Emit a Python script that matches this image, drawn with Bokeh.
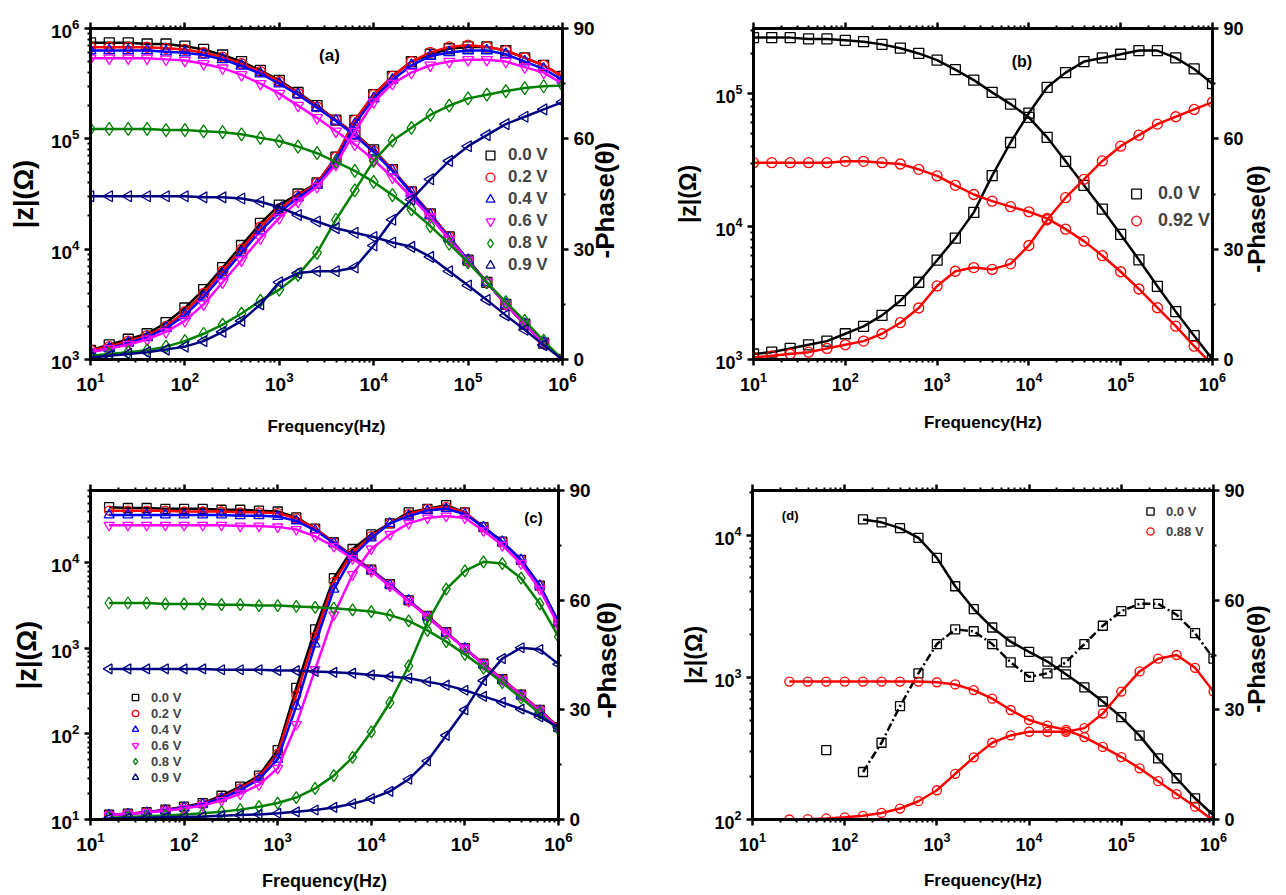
import math
from bokeh.plotting import figure
from bokeh.models import (Range1d, LogAxis, LinearAxis, FixedTicker, Label, LinearScale,
                          Legend, LegendItem, ColumnDataSource, CustomJSTickFormatter)
from bokeh.layouts import column, row
from bokeh.embed import file_html
from bokeh.resources import INLINE

FONT = "Liberation Sans"

# ---------------- data ----------------
FREQ = [10, 15.8, 25.1, 39.8, 63.1, 100, 158, 251, 398, 631, 1000, 1580, 2510, 3980, 6310,
        10000, 15800, 25100, 39800, 63100, 100000, 158000, 251000, 398000, 631000, 1000000]

# panel (a)
A_LABELS = ["0.0 V", "0.2 V", "0.4 V", "0.6 V", "0.8 V", "0.9 V"]
A_Z_00 = [741e3, 741e3, 741e3, 724e3, 724e3, 692e3, 646e3, 575e3, 501e3, 417e3, 339e3, 263e3, 200e3,
          148e3, 112e3, 79.4e3, 52.5e3, 33.1e3, 20.9e3, 12.9e3, 7.94e3, 5.01e3, 3.16e3, 2.09e3, 1.41e3, 1.00e3]
A_Z_02 = [676e3, 676e3, 676e3, 676e3, 661e3, 646e3, 603e3, 550e3, 479e3, 407e3, 331e3, 257e3, 195e3,
          148e3, 110e3, 77.6e3, 52.5e3, 33.1e3, 20.9e3, 12.9e3, 7.94e3, 5.01e3, 3.16e3, 2.09e3, 1.41e3, 1.00e3]
A_Z_04 = [631e3, 631e3, 631e3, 631e3, 617e3, 603e3, 575e3, 525e3, 457e3, 389e3, 316e3, 251e3, 191e3,
          145e3, 107e3, 75.9e3, 51.3e3, 32.4e3, 20.4e3, 12.6e3, 7.94e3, 5.01e3, 3.16e3, 2.09e3, 1.41e3, 1.00e3]
A_Z_06 = [537e3, 537e3, 537e3, 537e3, 525e3, 513e3, 479e3, 437e3, 380e3, 316e3, 257e3, 200e3, 155e3,
          117e3, 89.1e3, 64.6e3, 44.7e3, 29.5e3, 19.5e3, 12.3e3, 7.76e3, 5.01e3, 3.16e3, 2.09e3, 1.41e3, 1.00e3]
A_Z_08 = [123e3, 123e3, 123e3, 123e3, 120e3, 120e3, 117e3, 115e3, 110e3, 102e3, 95.5e3, 85.1e3, 74.1e3,
          61.7e3, 51.3e3, 40.7e3, 30.9e3, 22.9e3, 16.2e3, 11.2e3, 7.59e3, 5.01e3, 3.31e3, 2.24e3, 1.48e3, 1.00e3]
A_Z_09 = [30.2e3, 30.2e3, 30.2e3, 30.2e3, 30.2e3, 30.2e3, 29.5e3, 29.5e3, 28.8e3, 26.9e3, 24.0e3, 20.4e3, 17.8e3,
          15.5e3, 14.1e3, 12.9e3, 11.5e3, 10.5e3, 8.51e3, 6.31e3, 4.68e3, 3.47e3, 2.51e3, 1.86e3, 1.35e3, 1.00e3]
A_P_00 = [2.5, 4, 5.5, 7, 10, 14, 19, 25, 31, 37, 42, 45, 48, 55, 65, 72, 77, 81, 83, 84.5, 85, 85, 84, 82, 80, 77]
A_P_02 = [2.5, 3.5, 5, 6.5, 9, 13, 18, 24, 30, 36, 41, 44.5, 48, 55, 65, 72, 77, 81, 83.5, 85, 85.5, 85, 84, 82, 80, 77]
A_P_04 = [2, 3, 4.5, 6, 8.5, 12, 17, 23, 29, 35, 40, 44, 47.5, 54, 64, 71, 76, 80, 82.5, 83.5, 84, 84, 83, 81, 79, 76]
A_P_06 = [2, 3, 4, 5.5, 7.5, 10.5, 15, 21, 27, 33, 38.5, 43, 47, 53, 62, 70, 75, 78, 80, 81, 81.5, 81.5, 81, 79.5, 78, 75]
A_P_08 = [1, 1.5, 2, 2.5, 3.5, 5, 7, 9.5, 12.5, 16, 19, 23, 29, 38, 46, 54, 59.5, 63, 66.5, 69, 71, 72, 73, 73.8, 74.3, 74.5]
A_P_09 = [0.5, 1, 1.5, 2, 2.7, 3.5, 5, 7.5, 10.5, 15, 21, 23.5, 24, 24, 25, 31, 38, 43.5, 49, 54, 58, 61, 64, 66, 68, 70]

# panel (b)
B_LABELS = ["0.0 V", "0.92 V"]
B_Z_00 = [263e3, 263e3, 263e3, 257e3, 257e3, 251e3, 245e3, 234e3, 219e3, 200e3, 178e3, 151e3, 126e3,
          102e3, 83.2e3, 66.1e3, 46.8e3, 30.9e3, 20.4e3, 13.5e3, 8.71e3, 5.62e3, 3.55e3, 2.29e3, 1.51e3, 1.00e3]
B_Z_092 = [30.2e3, 30.2e3, 30.2e3, 30.2e3, 30.2e3, 30.9e3, 30.9e3, 30.2e3, 29.5e3, 26.9e3, 24.0e3, 20.4e3, 17.4e3,
           15.5e3, 14.1e3, 12.9e3, 11.5e3, 9.55e3, 7.76e3, 6.03e3, 4.57e3, 3.39e3, 2.45e3, 1.78e3, 1.26e3, 912]
B_P_00 = [1.5, 2, 3, 4, 5, 7, 9, 12, 16, 21, 27, 33, 40, 50, 59, 67, 74, 78, 81, 82, 83, 84, 84, 82, 79, 75]
B_P_092 = [0.5, 1, 1.5, 2, 3, 4, 5, 7, 10, 14, 20, 24, 25, 24.5, 26, 31, 38, 44, 49, 54, 58, 61, 64, 66, 68, 70]

# panel (c)
FREQ_C = [15.8, 25.1, 39.8, 63.1, 100, 158, 251, 398, 631, 1000, 1580, 2510, 3980, 6310,
          10000, 15800, 25100, 39800, 63100, 100000, 158000, 251000, 398000, 631000, 1000000]
C_LABELS = ["0.0 V", "0.2 V", "0.4 V", "0.6 V", "0.8 V", "0.9 V"]
C_Z_00 = [44.7e3, 43.7e3, 43.7e3, 42.7e3, 42.7e3, 42.7e3, 41.7e3, 41.7e3, 40.7e3, 39.8e3, 33.9e3, 25.1e3, 17.4e3,
          12.0e3, 8.32e3, 5.62e3, 3.63e3, 2.40e3, 1.55e3, 1.00e3, 661, 437, 288, 191, 120]
C_Z_02 = [40.7e3, 40.7e3, 40.7e3, 40.7e3, 39.8e3, 39.8e3, 39.8e3, 38.9e3, 38.9e3, 38.0e3, 33.1e3, 25.1e3, 17.4e3,
          12.0e3, 8.32e3, 5.62e3, 3.63e3, 2.40e3, 1.55e3, 1.00e3, 661, 437, 288, 191, 120]
C_Z_04 = [36.3e3, 36.3e3, 36.3e3, 36.3e3, 36.3e3, 36.3e3, 36.3e3, 35.5e3, 35.5e3, 34.7e3, 30.9e3, 24.0e3, 17.0e3,
          11.7e3, 8.13e3, 5.50e3, 3.63e3, 2.34e3, 1.51e3, 1.00e3, 646, 427, 282, 186, 117]
C_Z_06 = [27.5e3, 27.5e3, 27.5e3, 27.5e3, 27.5e3, 27.5e3, 27.5e3, 26.9e3, 26.9e3, 26.3e3, 24.5e3, 20.4e3, 15.5e3,
          11.2e3, 7.94e3, 5.37e3, 3.55e3, 2.34e3, 1.51e3, 1.00e3, 646, 427, 282, 186, 117]
C_Z_08 = [3.39e3, 3.39e3, 3.39e3, 3.31e3, 3.31e3, 3.31e3, 3.24e3, 3.24e3, 3.16e3, 3.16e3, 3.09e3, 3.02e3, 2.95e3,
          2.82e3, 2.69e3, 2.45e3, 2.09e3, 1.62e3, 1.20e3, 851, 589, 398, 263, 174, 112]
C_Z_09 = [575, 575, 575, 575, 575, 575, 562, 562, 562, 550, 550, 537, 525, 513, 490, 468, 447, 407, 372, 324,
          275, 234, 195, 158, 120]
C_P_00 = [1.3, 1.6, 2, 2.7, 3.5, 4.5, 6.5, 9, 12, 19, 36, 52, 66, 74, 78, 81, 84, 85, 86, 84, 80, 76, 71, 64, 54]
C_P_02 = [1.3, 1.6, 2, 2.6, 3.3, 4.3, 6, 8.5, 11.5, 18, 34, 50, 65, 73, 77.5, 81, 83.5, 85, 85.5, 84, 80, 76, 71, 64, 54]
C_P_04 = [1.2, 1.5, 1.9, 2.5, 3.2, 4.2, 5.8, 8, 11, 16.5, 31, 48, 63, 72, 77, 81, 83, 84.5, 85, 83.5, 80, 76, 71, 64, 54]
C_P_06 = [1.2, 1.5, 1.9, 2.4, 3.0, 3.8, 5.2, 7, 9.5, 14, 26, 41, 56, 67, 74, 78, 81, 82.5, 83, 82.5, 79, 75, 70, 63, 53]
C_P_08 = [0.5, 0.7, 0.9, 1.1, 1.4, 1.7, 2.1, 2.7, 3.5, 4.5, 6, 8.5, 12, 17, 24, 32, 42, 54, 63, 68, 70.5, 70, 66, 59, 50]
C_P_09 = [0.3, 0.4, 0.5, 0.6, 0.7, 0.8, 1.0, 1.2, 1.4, 1.7, 2.1, 2.6, 3.3, 4.3, 5.7, 7.7, 11, 16, 23, 30, 38, 44, 47, 46.5, 42.5]

# panel (d)
D_LABELS = ["0.0 V", "0.88 V"]
FREQ_D0 = [158, 251, 398, 631, 1000, 1580, 2510, 3980, 6310, 10000, 15800, 25100, 39800, 63100,
           100000, 158000, 251000, 398000, 631000, 1000000]
D_Z_00 = [12.9e3, 12.3e3, 11.2e3, 9.55e3, 6.92e3, 4.37e3, 3.02e3, 2.24e3, 1.78e3, 1.51e3, 1.29e3, 1.05e3, 851,
          676, 525, 389, 269, 195, 141, 107]
D_P_00 = [13, 21, 31, 40, 48, 52, 51.5, 48, 43, 39, 40, 43, 48, 53, 57, 59, 59, 56, 51, 44]
D_OUT_F = [63.1]
D_OUT_P = [19]
FREQ_D1 = [25.1, 39.8, 63.1, 100, 158, 251, 398, 631, 1000, 1580, 2510, 3980, 6310, 10000, 15800, 25100,
           39800, 63100, 100000, 158000, 251000, 398000, 631000, 1000000]
D_Z_088 = [933, 933, 933, 933, 933, 933, 933, 933, 923, 891, 813, 708, 589, 501, 457, 427, 380, 324, 275,
           229, 186, 151, 123, 98]
D_P_088 = [0, 0.1, 0.3, 0.6, 1.0, 1.8, 3.0, 5, 8, 12.5, 17, 21, 23, 24, 24, 24, 25, 29, 35, 40.5, 44, 45, 41.5, 35]

Z_TITLE = "|z|(\u03a9)"
PHASE_TITLE = "-Phase(\u03b8)"
F_TITLE = "Frequency(Hz)"

BLACK, RED, BLUE, MAGENTA, GREEN, NAVY = "#000000", "#ff0000", "#0000ff", "#ff00ff", "#008000", "#000080"
LEFT_TRI = math.pi / 2

DECADES = [10 ** k for k in range(0, 8)]
MINORS = [m * 10 ** k for k in range(0, 7) for m in range(2, 10)]


def log_ticker(lo, hi):
    return FixedTicker(ticks=[d for d in DECADES if lo <= d <= hi], minor_ticks=MINORS)


def style_axis(ax, fs, standoff=5):
    ax.axis_line_width = 3
    ax.axis_line_color = "black"
    ax.major_tick_line_width = 2.5
    ax.minor_tick_line_width = 2
    ax.major_tick_out = 6
    ax.major_tick_in = 0
    ax.minor_tick_out = 3
    ax.minor_tick_in = 0
    ax.major_label_text_font = FONT
    ax.major_label_text_font_style = "bold"
    ax.major_label_text_font_size = f"{fs}px"
    ax.major_label_text_color = "black"
    ax.major_label_standoff = standoff


def title_axis(ax, text, fs, standoff):
    ax.axis_label = text
    ax.axis_label_text_font = FONT
    ax.axis_label_text_font_style = "bold"
    ax.axis_label_text_font_size = f"{fs}px"
    ax.axis_label_text_color = "black"
    ax.axis_label_standoff = standoff


def make_panel(w, h, bl, br, bt, bb, yr, fs, titles):
    p = figure(width=w, height=h, x_axis_type="log", y_axis_type="log",
               x_range=Range1d(10, 1e6), y_range=Range1d(*yr),
               output_backend="svg", toolbar_location=None,
               min_border_left=bl, min_border_right=br, min_border_top=bt, min_border_bottom=bb)
    p.extra_y_ranges = {"phase": Range1d(0, 90)}
    p.extra_y_scales = {"phase": LinearScale()}
    p.xgrid.visible = False
    p.ygrid.visible = False
    p.outline_line_color = "black"
    p.outline_line_width = 3
    p.background_fill_color = "white"
    p.border_fill_color = "white"
    p.xaxis.ticker = log_ticker(10, 1e6)
    p.yaxis.ticker = log_ticker(yr[0], yr[1])
    style_axis(p.xaxis[0], fs, 6)
    style_axis(p.yaxis[0], fs, 5)
    (lfs, lso), (rfs, rso, rpad), (bfs, bso) = titles
    title_axis(p.yaxis[0], Z_TITLE, lfs, lso)
    title_axis(p.xaxis[0], F_TITLE, bfs, bso)
    top = LogAxis(ticker=log_ticker(10, 1e6),
                  formatter=CustomJSTickFormatter(code="return ''"))
    style_axis(top, fs)
    top.major_label_text_font_size = "2px"
    top.major_label_standoff = 0
    p.add_layout(top, "above")
    right = LinearAxis(y_range_name="phase",
                       ticker=FixedTicker(ticks=[0, 30, 60, 90], minor_ticks=[15, 45, 75]))
    style_axis(right, fs, 5)
    # rotated so that it reads bottom-to-top, as in the reference; the no-break spaces
    # lift the start of the text off the bottom of the axis
    title_axis(right, PHASE_TITLE, rfs, rso)
    try:
        right.axis_label_orientation = math.pi / 2
        right.axis_label_align = "start"
        right.axis_label = "\u00a0" * rpad + PHASE_TITLE
    except Exception:
        pass
    p.add_layout(right, "right")
    return p


def add_series(p, f, z, ph, color, marker, size, angle=0.0, ph_dash="solid"):
    sz = ColumnDataSource(dict(f=f, v=z))
    sp = ColumnDataSource(dict(f=f, v=ph))
    r = p.scatter("f", "v", source=sz, marker=marker, size=size, angle=angle,
                  fill_color=None, line_color=color, line_width=1.3)
    p.line("f", "v", source=sz, line_color=color, line_width=2.5)
    p.scatter("f", "v", source=sp, y_range_name="phase", marker=marker, size=size, angle=angle,
              fill_color=None, line_color=color, line_width=1.3)
    p.line("f", "v", source=sp, y_range_name="phase", line_color=color, line_width=2.5, line_dash=ph_dash)
    return r


def txt(p, frame, px, py, text, size, angle=0.0):
    L, R, T, B = frame
    x = 10 ** (1 + 5 * (px - L) / (R - L))
    y = 90 * (B - py) / (B - T)
    p.add_layout(Label(x=x, y=y, y_range_name="phase", text=text, angle=angle,
                       text_align="center", text_baseline="middle", text_font=FONT,
                       text_font_style="bold", text_font_size=f"{size}px", text_color="black"))


def legend(p, rends, labels, loc, fs, gw, gh, standoff):
    lg = Legend(items=[LegendItem(label=l, renderers=[r]) for l, r in zip(labels, rends)],
                location=loc, orientation="vertical", background_fill_alpha=0,
                border_line_color=None, padding=0, margin=0, spacing=0,
                glyph_width=gw, glyph_height=gh, label_height=gh, label_standoff=standoff,
                label_text_font=FONT, label_text_font_style="bold", label_text_font_size=f"{fs}px")
    p.add_layout(lg)


# ---------------- panel (a) ----------------
FA = (90, 562, 25, 363)
pa = make_panel(660, 443, 90, 98, 25, 80, (1e3, 1e6), 19,
                ((27, 9), (26, 7, 14), (17, 23)))
ra = [
    add_series(pa, FREQ, A_Z_00, A_P_00, BLACK, "square", 10),
    add_series(pa, FREQ, A_Z_02, A_P_02, RED, "circle", 10),
    add_series(pa, FREQ, A_Z_04, A_P_04, BLUE, "triangle", 11),
    add_series(pa, FREQ, A_Z_06, A_P_06, MAGENTA, "inverted_triangle", 11),
    add_series(pa, FREQ, A_Z_08, A_P_08, GREEN, "diamond", 13),
    add_series(pa, FREQ, A_Z_09, A_P_09, NAVY, "triangle", 11, angle=LEFT_TRI),
]
legend(pa, ra, A_LABELS, (388, 83), 17, 24, 22, 6)
txt(pa, FA, 329, 53, "(a)", 17)

# ---------------- panel (b) ----------------
FB = (753, 1213, 28, 359)
pb = make_panel(626, 443, 93, 73, 28, 84, (1e3, 3.08e5), 18,
                ((23, 11), (24, 10, 13), (17, 19)))
rb = [
    add_series(pb, FREQ, B_Z_00, B_P_00, BLACK, "square", 10),
    add_series(pb, FREQ, B_Z_092, B_P_092, RED, "circle", 10),
]
legend(pb, rb, B_LABELS, (371, 125), 18, 24, 27, 10)
txt(pb, FB, 1022, 61, "(b)", 16)

# ---------------- panel (c) ----------------
FC = (90, 558, 490, 825)
pc = make_panel(660, 452, 90, 102, 47, 70, (10, 7.0e4), 19,
                ((27, 6), (26, 13, 14), (18, 17)))
rc = [
    add_series(pc, FREQ_C, C_Z_00, C_P_00, BLACK, "square", 9),
    add_series(pc, FREQ_C, C_Z_02, C_P_02, RED, "circle", 9),
    add_series(pc, FREQ_C, C_Z_04, C_P_04, BLUE, "triangle", 10),
    add_series(pc, FREQ_C, C_Z_06, C_P_06, MAGENTA, "inverted_triangle", 10),
    add_series(pc, FREQ_C, C_Z_08, C_P_08, GREEN, "diamond", 12),
    add_series(pc, FREQ_C, C_Z_09, C_P_09, NAVY, "triangle", 10, angle=LEFT_TRI),
]
legend(pc, rc, C_LABELS, (36, 34), 13, 18, 16, 7)
txt(pc, FC, 533, 517, "(c)", 15)

# ---------------- panel (d) ----------------
FD = (752, 1217, 488, 819)
pd_ = make_panel(626, 452, 92, 69, 45, 76, (100, 2.06e4), 18,
                 ((23, 4), (24, 9, 16), (17, 17)))
rd = [
    add_series(pd_, FREQ_D0, D_Z_00, D_P_00, BLACK, "square", 9, ph_dash="8 3 2 3"),
    add_series(pd_, FREQ_D1, D_Z_088, D_P_088, RED, "circle", 9),
]
pd_.scatter(D_OUT_F, D_OUT_P, y_range_name="phase", marker="square", size=9,
            fill_color=None, line_color=BLACK, line_width=1.3)
legend(pd_, rd, D_LABELS, (389, 278), 13, 18, 20, 7)
txt(pd_, FD, 790, 513, "(d)", 13)

layout = column(row(pa, pb), row(pc, pd_))
open("out.html", "w").write(file_html(layout, INLINE))
